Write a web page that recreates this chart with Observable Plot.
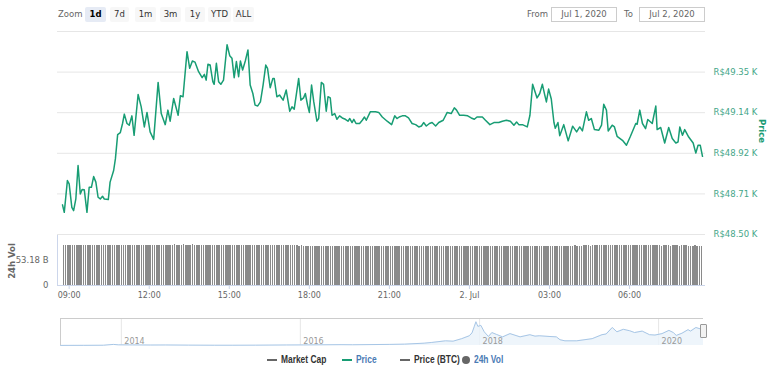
<!DOCTYPE html>
<html>
<head>
<meta charset="utf-8">
<script src="https://cdn.jsdelivr.net/npm/d3@7"></script>
<script src="https://cdn.jsdelivr.net/npm/@observablehq/plot@0.6"></script>
<style>
  html, body { margin: 0; padding: 0; background: #fff; }
  #wrap { position: relative; width: 768px; height: 368px; overflow: hidden; font-family: "DejaVu Sans", sans-serif; }
  .abs { position: absolute; }
  .btn { position: absolute; top: 7px; height: 15px; line-height: 15px; font-size: 8.5px; text-align: center; color: #333; background: #f7f7f7; border-radius: 2px; }
  .btn.sel { background: #e6ebf5; font-weight: bold; color: #000; }
  .lbl { position: absolute; font-size: 8.5px; color: #666; }
  .inp { position: absolute; top: 7px; height: 13px; line-height: 13px; border: 1px solid #cccccc; font-size: 8.5px; color: #666; text-align: center; }
  .rot { position: absolute; white-space: nowrap; font-weight: bold; font-size: 8.5px; }
  #legend { position: absolute; top: 353px; left: 0; width: 768px; height: 14px; }
  .li { position: absolute; top: 0; font-family: "Liberation Sans", Arial, sans-serif; font-size: 10px; font-weight: bold; line-height: 14px; white-space: nowrap; transform: scaleX(0.84); transform-origin: left center; }
  .sym { position: absolute; top: 6px; height: 2px; width: 10px; }
</style>
</head>
<body>
<div id="wrap">
  <div class="lbl" style="left:58px; top:9px;">Zoom</div>
  <div id="buttons"></div>
  <div class="lbl" style="left:527px; top:9px;">From</div>
  <div class="inp" style="left:551px; width:64px;">Jul 1, 2020</div>
  <div class="lbl" style="left:624px; top:9px;">To</div>
  <div class="inp" style="left:639px; width:64px;">Jul 2, 2020</div>
  <div id="price" class="abs" style="left:0; top:30px;"></div>
  <div id="vol" class="abs" style="left:0; top:232px;"></div>
  <div id="nav" class="abs" style="left:0; top:316px;"></div>
  <div class="rot" style="left:750px; top:126px; color:#1a9b74; transform: rotate(90deg); transform-origin: center;">Price</div>
  <div class="rot" style="left:-6px; top:256px; color:#666; transform: rotate(-90deg); transform-origin: center;">24h Vol</div>
  <div class="abs" style="left:700px; top:324px; width:5px; height:12px; background:#f2f2f2; border:1px solid #999; border-radius:1px;"></div>
  <div id="legend"></div>
</div>
<script>
// ---------- data ----------
const zoomButtons = ["1d", "7d", "1m", "3m", "1y", "YTD", "ALL"];
const zoomButtonX = [85, 110, 135, 160, 185, 208, 233];
const zoomButtonW = [21, 19, 21, 21, 20, 23, 21];

// minutes after Jul 1 2020 00:00
const priceMinutes = [525,529,536,540,546,550,555,560,565,569,574,580,585,590,595,600,605,610,615,619,628,632,640,644,649,655,660,664,670,675,681,686,695,702,709,715,722,730,740,747,756,762,767,775,785,790,796,805,811,817,823,831,839,844,848,852,857,863,866,871,876,881,887,895,901,906,911,916,921,925,930,936,942,947,953,958,964,970,976,982,986,992,998,1001,1007,1013,1021,1028,1036,1041,1046,1056,1061,1067,1071,1076,1080,1085,1090,1097,1101,1107,1112,1118,1122,1127,1131,1137,1142,1148,1154,1161,1167,1171,1176,1180,1185,1193,1199,1204,1208,1217,1229,1236,1244,1255,1265,1272,1277,1282,1289,1296,1303,1311,1319,1326,1332,1337,1343,1350,1356,1364,1371,1381,1390,1399,1406,1411,1418,1427,1436,1444,1451,1457,1469,1476,1486,1495,1506,1514,1523,1532,1540,1546,1551,1559,1570,1576,1582,1592,1598,1604,1609,1613,1618,1624,1630,1633,1639,1643,1652,1662,1672,1681,1688,1694,1703,1708,1714,1721,1731,1737,1742,1748,1752,1761,1766,1772,1784,1793,1802,1814,1817,1823,1829,1836,1841,1851,1859,1862,1870,1879,1888,1896,1904,1909,1913,1919,1924,1933,1943,1949,1954,1959,1964];
// price in R$
const priceValues = [48655,48616,48782,48765,48642,48625,48686,48861,48712,48735,48734,48616,48747,48747,48803,48774,48695,48686,48700,48686,48683,48774,48835,48897,49023,49033,49081,49130,49081,49072,49121,49019,49233,49168,49063,49139,49037,48998,49296,49133,49075,49151,49093,49212,49124,49226,49221,49457,49370,49408,49402,49352,49321,49338,49308,49391,49387,49300,49286,49396,49300,49286,49308,49493,49436,49423,49321,49405,49326,49408,49361,49408,49466,49282,49238,49177,49173,49194,49282,49387,49370,49268,49317,49317,49221,49230,49203,49256,49145,49168,49156,49317,49203,49215,49238,49177,49139,49282,49194,49093,49107,49296,49286,49145,49221,49215,49124,49133,49103,49121,49110,49103,49093,49107,49086,49103,49081,49081,49098,49115,49098,49142,49142,49139,49115,49093,49075,49121,49107,49115,49121,49121,49110,49081,49075,49063,49068,49086,49068,49081,49086,49068,49086,49098,49139,49133,49163,49151,49124,49124,49121,49110,49103,49115,49115,49098,49075,49086,49086,49093,49098,49093,49072,49089,49075,49075,49063,49124,49286,49215,49238,49286,49233,49194,49261,49209,49086,49056,49086,49017,49075,48990,49067,49037,49063,49042,49142,49098,49107,49049,49046,49072,49182,49151,49042,49072,49063,49014,48993,48967,49014,49081,49077,49151,49081,49054,49102,49081,49172,49049,49060,48979,49060,49002,48979,48984,49063,49019,49049,49010,48979,48926,48967,48967,48909];

const priceTickValues = [48500, 48712.5, 48925, 49137.5, 49350];
const priceTickLabels = ["R$48.50 K", "R$48.71 K", "R$48.92 K", "R$49.14 K", "R$49.35 K"];
const priceTopGrid = 49562.5;

// 24h volume (billions R$), one bar per 5 minutes starting 08:45
const volumeValues = [
  85.1,85.2,85.2,85.3,85.1,85.0,85.1,85.2,85.3,85.4,85.3,85.2,
  85.3,85.4,85.5,85.4,85.3,85.3,85.4,85.5,85.6,85.5,85.4,85.5,
  85.6,85.7,85.6,85.5,85.6,85.7,85.8,85.7,85.6,85.7,85.8,85.9,
  85.8,85.9,86.0,85.9,85.8,85.9,86.0,86.1,86.0,85.9,86.0,86.1,
  86.0,86.1,86.2,86.1,86.0,86.1,86.2,86.1,86.0,86.1,86.2,86.1,
  86.0,85.9,86.0,86.1,86.0,85.9,85.8,85.9,86.0,85.9,85.8,85.7,
  85.6,85.5,85.6,85.7,85.5,85.4,85.3,85.4,85.5,85.3,85.2,85.1,
  85.0,85.1,84.9,84.8,84.9,85.0,84.8,84.7,84.8,84.6,84.5,84.6,
  84.5,84.4,84.5,84.3,84.2,84.3,84.4,84.2,84.1,84.2,84.0,84.1,
  84.0,83.9,84.0,83.8,83.9,83.7,83.8,83.6,83.7,83.8,83.6,83.5,
  83.6,83.5,83.4,83.5,83.6,83.4,83.3,83.4,83.5,83.3,83.2,83.3,
  83.4,83.2,83.3,83.1,83.2,83.3,83.1,83.0,83.1,83.2,83.0,83.1,
  83.2,83.1,83.0,83.1,83.2,83.0,82.9,83.0,83.1,83.0,82.9,83.0,
  83.1,83.0,82.9,83.0,83.1,82.9,83.0,83.1,83.0,82.9,83.0,83.1,
  83.0,83.1,83.2,83.1,83.0,83.1,83.2,83.3,83.2,83.1,83.2,83.3,
  83.2,83.3,83.4,83.3,83.2,83.3,83.4,83.5,83.4,83.3,83.4,83.5,
  83.6,83.7,83.6,83.8,83.9,83.8,83.7,83.8,83.9,84.0,83.9,83.8,
  83.9,83.8,83.7,83.8,83.9,83.8,83.7,83.6,83.7,83.8,83.7,83.6,
  83.7,83.8,83.9,83.8,83.7,83.8,83.9,84.0,83.9,83.8,83.9,84.0,
  83.9,84.0,84.1,84.0,83.9,84.0,84.1,84.2,84.1,84.0,84.1,84.2,
  84.1,84.2,84.3,84.2,84.1,84.2,84.3,84.4,84.3,84.2,84.3,84.4,
  84.3,84.2,84.3,84.4,84.3,84.2,84.1,84.2,84.3,84.2,84.1,84.2,
  84.1,84.2,84.3,84.2,84.1,84.0,84.1,84.2,84.1,84.0,84.1,84.2,
  84.1,84.0,84.1,84.2,84.1,84.0,83.9,84.0,84.1,84.0,83.9,84.0
];
const volumeStartMinute = 525;
const volumeStepMinutes = 5;
const volumeTickValues = [0, 53.18];
const volumeTickLabels = ["0", "53.18 B"];

// x axis ticks (minutes after Jul 1 00:00)
const timeTickMinutes = [540, 720, 900, 1080, 1260, 1440, 1620, 1800];
const timeTickLabels = ["09:00", "12:00", "15:00", "18:00", "21:00", "2. Jul", "03:00", "06:00"];

// navigator (whole history, thousands of R$)
const navDates = ["2013-04-28","2013-08-01","2013-10-20","2013-11-30","2013-12-20","2014-02-15","2014-05-01","2014-07-01","2014-10-01","2015-01-15","2015-04-01","2015-07-01","2015-11-05","2016-01-15","2016-06-15","2016-08-01","2016-12-31","2017-03-01","2017-05-20","2017-06-20","2017-08-15","2017-09-15","2017-10-20","2017-11-20","2017-12-01","2017-12-10","2017-12-17","2017-12-25","2018-01-06","2018-01-20","2018-02-06","2018-02-20","2018-03-10","2018-04-05","2018-05-05","2018-06-15","2018-07-25","2018-08-15","2018-09-01","2018-10-15","2018-11-10","2018-11-25","2018-12-15","2019-02-01","2019-04-05","2019-05-15","2019-06-01","2019-06-26","2019-07-15","2019-08-10","2019-09-05","2019-09-25","2019-10-26","2019-11-25","2019-12-17","2020-01-15","2020-02-12","2020-03-01","2020-03-13","2020-04-05","2020-04-30","2020-05-10","2020-06-01","2020-06-20","2020-07-02"];
const navValues = [0.3,0.4,0.7,3.0,1.8,1.6,1.3,1.4,1.0,0.7,0.7,0.9,1.4,1.6,2.3,2.0,3.1,3.8,6.5,8.5,13,12,19,27,35,52,66,53,56,38,25,36,31,24,33,24,30,26,27,25,24,16,13,13,19,30,32,50,38,45,41,36,40,30,29,33,42,36,28,34,44,40,50,46,49];
const navYearDates = ["2014-01-01", "2016-01-01", "2018-01-01", "2020-01-01"];
const navYearLabels = ["2014", "2016", "2018", "2020"];

const legendItems = [
  {name: "Market Cap", symbol: "line", symbolColor: "#666666", textColor: "#333333", symX: 267, textX: 281},
  {name: "Price", symbol: "line", symbolColor: "#189d74", textColor: "#4b7bb5", symX: 342, textX: 356},
  {name: "Price (BTC)", symbol: "line", symbolColor: "#666666", textColor: "#333333", symX: 400, textX: 414},
  {name: "24h Vol", symbol: "circle", symbolColor: "#666666", textColor: "#4b7bb5", symX: 462, textX: 474}
];

// ---------- build ----------
const baseUTC = Date.UTC(2020, 6, 1);
const T = m => new Date(baseUTC + m * 60000);
const xDomain = [T(priceMinutes[0]), T(priceMinutes[priceMinutes.length - 1])];

const priceData = priceMinutes.map((m, i) => ({t: T(m), p: priceValues[i]}));
const volData = volumeValues.map((v, i) => ({
  t0: T(volumeStartMinute + i * volumeStepMinutes),
  t1: T(volumeStartMinute + (i + 1) * volumeStepMinutes),
  v
}));
const priceLabelMap = new Map(priceTickValues.map((v, i) => [v, priceTickLabels[i]]));
const volLabelMap = new Map(volumeTickValues.map((v, i) => [v, volumeTickLabels[i]]));
const timeTicks = timeTickMinutes.map(T);
const timeLabelMap = new Map(timeTickMinutes.map((m, i) => [+T(m), timeTickLabels[i]]));

const font = '"DejaVu Sans", sans-serif';

// buttons
const bwrap = document.getElementById("buttons");
zoomButtons.forEach((b, i) => {
  const d = document.createElement("div");
  d.className = "btn" + (i === 0 ? " sel" : "");
  d.style.left = zoomButtonX[i] + "px";
  d.style.width = zoomButtonW[i] + "px";
  d.textContent = b;
  bwrap.appendChild(d);
});

// price chart
const pricePlot = Plot.plot({
  width: 768, height: 206,
  marginTop: 1, marginBottom: 2, marginLeft: 57, marginRight: 63,
  insetLeft: 5, insetRight: 3,
  style: {fontFamily: font, fontSize: "8.5px", background: "transparent", overflow: "visible"},
  x: {type: "utc", domain: xDomain, axis: null},
  y: {domain: [48500, priceTopGrid], axis: null},
  marks: [
    Plot.ruleY([...priceTickValues, priceTopGrid], {stroke: "#e6e6e6", strokeWidth: 1}),
    Plot.axisY(priceTickValues, {anchor: "right", tickSize: 0, tickPadding: 8, tickFormat: d => priceLabelMap.get(d), fill: "#45a688", label: null}),
    Plot.line(priceData, {x: "t", y: "p", stroke: "#189d74", strokeWidth: 1.5, curve: "linear"})
  ]
});
document.getElementById("price").appendChild(pricePlot);

// volume chart
const volPlot = Plot.plot({
  width: 768, height: 75,
  marginTop: 3, marginBottom: 22, marginLeft: 57, marginRight: 63,
  insetLeft: 5, insetRight: 3,
  style: {fontFamily: font, fontSize: "8px", background: "transparent", overflow: "visible"},
  x: {type: "utc", domain: xDomain},
  y: {domain: [0, 106.36], axis: null},
  marks: [
    Plot.rectY(volData, {x1: "t0", x2: "t1", y: "v", fill: "#8a8a8a", insetLeft: 0.7, shapeRendering: "crispEdges"}),
    Plot.ruleX([xDomain[0]], {dx: -5, stroke: "#ccd6eb"}),
    Plot.ruleY([0], {stroke: "#ccd6eb"}),
    Plot.axisX(timeTicks, {tickSize: 4, tickPadding: 3, stroke: "#ccd6eb", fill: "#666", tickFormat: d => timeLabelMap.get(+d), label: null}),
    Plot.axisY(volumeTickValues, {anchor: "left", tickSize: 0, tickPadding: 9, tickFormat: d => volLabelMap.get(d), fill: "#666", fontSize: 8.5, label: null})
  ]
});
document.getElementById("vol").appendChild(volPlot);

// navigator
const navData = navDates.map((d, i) => ({d: new Date(d + "T00:00:00Z"), v: navValues[i]}));
const navYears = navYearDates.map(d => new Date(d + "T00:00:00Z"));
const navYearMap = new Map(navYears.map((d, i) => [+d, navYearLabels[i]]));
const navStart = new Date("2013-04-28T00:00:00Z");
const navEnd = new Date("2020-07-02T00:00:00Z");
const navPlot = Plot.plot({
  width: 768, height: 31,
  marginTop: 2, marginBottom: 2, marginLeft: 60, marginRight: 65,
  style: {fontFamily: font, fontSize: "8px", background: "transparent", overflow: "visible"},
  x: {type: "utc", domain: [navStart, navEnd], axis: null},
  y: {domain: [0, 75], axis: null},
  marks: [
    Plot.ruleX(navYears, {stroke: "#e6e6e6"}),
    Plot.areaY(navData, {x: "d", y: "v", fill: "#eaf2fa", fillOpacity: 0.8}),
    Plot.lineY(navData, {x: "d", y: "v", stroke: "#a7c6e6", strokeWidth: 1}),
    Plot.text(navYears, {x: d => d, frameAnchor: "bottom", dy: -2, dx: 3, textAnchor: "start", text: d => navYearMap.get(+d), fill: "#999"}),
    Plot.ruleY([75], {stroke: "#cccccc"}),
    Plot.ruleX([navStart], {stroke: "#cccccc"})
  ]
});
document.getElementById("nav").appendChild(navPlot);

// legend
const lg = document.getElementById("legend");
legendItems.forEach(it => {
  const s = document.createElement("div");
  if (it.symbol === "line") {
    s.className = "sym";
    s.style.left = it.symX + "px";
    s.style.background = it.symbolColor;
  } else {
    s.style.position = "absolute";
    s.style.left = it.symX + "px";
    s.style.top = "3px";
    s.style.width = "8px"; s.style.height = "8px";
    s.style.borderRadius = "50%";
    s.style.background = it.symbolColor;
  }
  lg.appendChild(s);
  const t = document.createElement("div");
  t.className = "li";
  t.style.left = it.textX + "px";
  t.style.color = it.textColor;
  t.textContent = it.name;
  lg.appendChild(t);
});
</script>
</body>
</html>
